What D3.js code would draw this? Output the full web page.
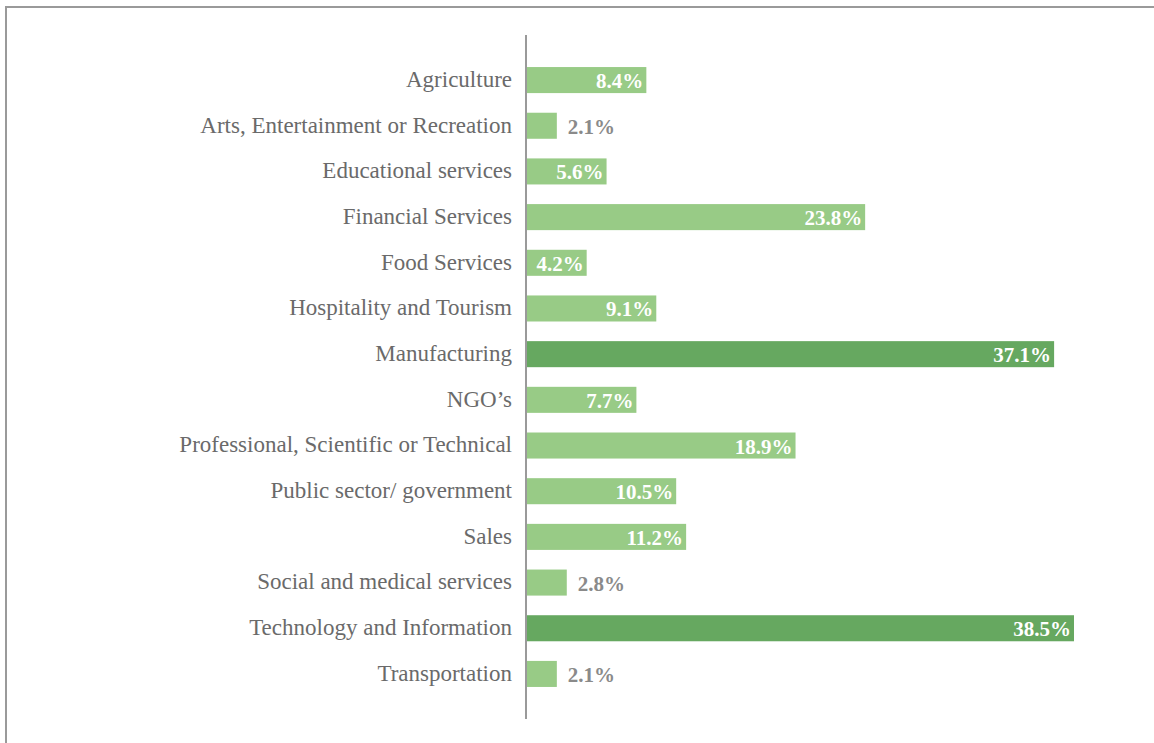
<!DOCTYPE html>
<html>
<head>
<meta charset="utf-8">
<script src="https://cdn.jsdelivr.net/npm/d3@7"></script>
<style>
  body { margin: 0; background: #fff; }
  svg { display: block; }
</style>
</head>
<body>
<script>
// sectors and share of respondents (%)
var sectors = ['Agriculture', 'Arts, Entertainment or Recreation', 'Educational services',
  'Financial Services', 'Food Services', 'Hospitality and Tourism', 'Manufacturing', 'NGO\u2019s',
  'Professional, Scientific or Technical', 'Public sector/ government', 'Sales',
  'Social and medical services', 'Technology and Information', 'Transportation'];
var shares = [8.4, 2.1, 5.6, 23.8, 4.2, 9.1, 37.1, 7.7, 18.9, 10.5, 11.2, 2.8, 38.5, 2.1];
var highlighted = ['Manufacturing', 'Technology and Information'];

var W = 1154, H = 743;
var x0 = 527;

var svg = d3.select('body').append('svg')
    .attr('width', W)
    .attr('height', H);

// frame
svg.append('path')
  .attr('d', 'M6,' + H + 'V7H' + W)
  .attr('fill', 'none')
  .attr('stroke', '#9a9a9a')
  .attr('stroke-width', 2);

var yScale = d3.scaleBand()
    .domain(sectors)
    .range([57, 697])
    .paddingInner(0.43)
    .paddingOuter(0.22);

var xScale = d3.scaleLinear()
    .domain([0, 38.5])
    .range([x0, 1074]);

var data = sectors.map(function (s, i) { return {name: s, v: shares[i]}; });

svg.selectAll('rect.bar')
  .data(data)
  .enter()
  .append('rect')
  .attr('class', 'bar')
  .attr('x', x0)
  .attr('y', function (d) { return yScale(d.name); })
  .attr('width', function (d) { return xScale(d.v) - x0; })
  .attr('height', yScale.bandwidth())
  .attr('fill', function (d) {
    return highlighted.indexOf(d.name) >= 0 ? '#66a860' : '#98cb86';
  });

// category labels
svg.selectAll('text.cat')
  .data(data)
  .enter()
  .append('text')
  .attr('class', 'cat')
  .attr('x', 512)
  .attr('y', function (d) { return yScale(d.name) + yScale.bandwidth() / 2; })
  .attr('dy', '0.3em')
  .attr('text-anchor', 'end')
  .attr('font-family', '"Liberation Serif", serif')
  .attr('font-size', '23px')
  .attr('fill', '#6a6a6a')
  .text(function (d) { return d.name; });

// value labels: inside the bar when it fits, else just after
svg.selectAll('text.val')
  .data(data)
  .enter()
  .append('text')
  .attr('class', 'val')
  .attr('x', function (d) {
    return d.v > 4 ? xScale(d.v) - 3 : xScale(d.v) + 11;
  })
  .attr('y', function (d) { return yScale(d.name) + yScale.bandwidth() / 2; })
  .attr('dy', '0.38em')
  .attr('text-anchor', function (d) { return d.v > 4 ? 'end' : 'start'; })
  .attr('font-family', '"Liberation Serif", serif')
  .attr('font-weight', 'bold')
  .attr('font-size', '21px')
  .attr('fill', function (d) { return d.v > 4 ? '#ffffff' : '#8a8a8a'; })
  .text(function (d) { return d.v.toFixed(1) + '%'; });

// vertical axis line
svg.append('line')
  .attr('x1', 526).attr('x2', 526)
  .attr('y1', 35).attr('y2', 719)
  .attr('stroke', '#9a9a9a')
  .attr('stroke-width', 2);
</script>
</body>
</html>
